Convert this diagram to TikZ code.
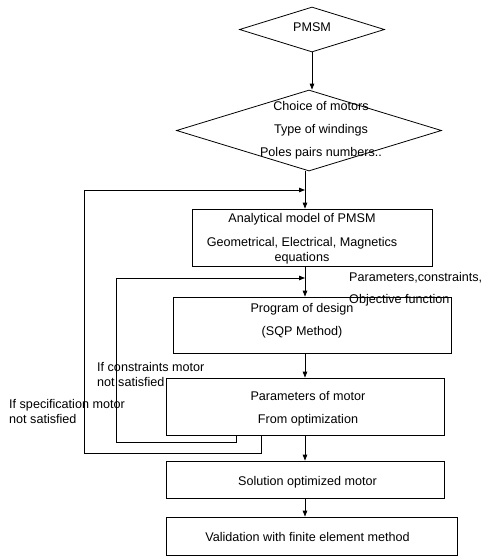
\documentclass[tikz,border=0pt]{standalone}
\usepackage{fontspec}
\setmainfont{Liberation Sans}
\usetikzlibrary{shapes.geometric,arrows.meta}
\tikzset{
  box/.style={draw, rectangle, inner sep=0pt, line width=0.8pt},
  dia/.style={draw, diamond, inner sep=0pt, line width=0.8pt},
  txt/.style={align=center, inner sep=0pt, font=\fontsize{12.6}{15}\selectfont},
  note/.style={align=left, anchor=west, inner sep=0pt, font=\fontsize{12.6}{15}\selectfont},
  flow/.style={line width=0.8pt, -{Triangle[length=6pt,width=4.5pt]}},
}
\begin{document}
\begin{tikzpicture}[x=1pt,y=-1pt]
\useasboundingbox (0,0) rectangle (482,558);
% decisions
\node[dia, minimum width=145pt, minimum height=45pt] (pmsm) at (312,29.5) {};
\node[dia, minimum width=265pt, minimum height=81pt] (choice) at (309,130.5) {};
% process boxes
\node[box, minimum width=240pt, minimum height=57pt] (model) at (312,237.5) {};
\node[box, minimum width=278pt, minimum height=56pt] (design) at (312,325) {};
\node[box, minimum width=278pt, minimum height=57pt] (param) at (305,406.5) {};
\node[box, minimum width=278pt, minimum height=37pt] (sol) at (305,479.5) {};
\node[box, minimum width=291pt, minimum height=38pt] (valid) at (311.5,536) {};
% texts
\node[txt] (pmsmtxt) at (312,27) {PMSM};
\node[txt] (choicetxt) at (321,130) {Choice of motors\\[8pt]Type of windings\\[8pt]Poles pairs numbers..};
\node[txt] (modeltxt) at (302,239) {Analytical model of PMSM\\[9pt]Geometrical, Electrical, Magnetics\\equations};
\node[txt] (designtxt) at (302,320.5) {Program of design\\[8pt](SQP Method)};
\node[txt] (paramtxt) at (308,408.5) {Parameters of motor\\[8pt]From optimization};
\node[txt] (soltxt) at (307.5,482) {Solution optimized motor};
\node[txt] (validtxt) at (307.5,537) {Validation with finite element method};
% main flow
\coordinate (main) at (305,0);
\draw[flow] (pmsm.south) -- (pmsm.south |- choice.north);
\draw[flow] (choice.south -| main) -- (model.north -| main);
\draw[flow] (model.south -| main) -- (design.north -| main);
\draw[flow] (design.south -| main) -- (param.north -| main);
\draw[flow] (param.south -| main) -- (sol.north -| main);
\draw[flow] (sol.south -| main) -- (valid.north -| main);
% feedback loops
\coordinate (inner) at (305,278);
\coordinate (outer) at (305,190);
\coordinate (innerout) at (236,0);
\coordinate (outerout) at (261,0);
\draw[flow] (param.south -| innerout) |- (116,442) |- (inner);
\draw[flow] (param.south -| outerout) |- (84,453) |- (outer);
% labels
\node[note] (paramlbl) at (349,278) {Parameters,constraints,};
\node[note] (objlbl) at (349,300) {Objective function};
\node[note] (constrlbl) at (97,374) {If constraints motor\\not satisfied};
\node[note] (speclbl) at (9,411.5) {If specification motor\\not satisfied};
\end{tikzpicture}
\end{document}
